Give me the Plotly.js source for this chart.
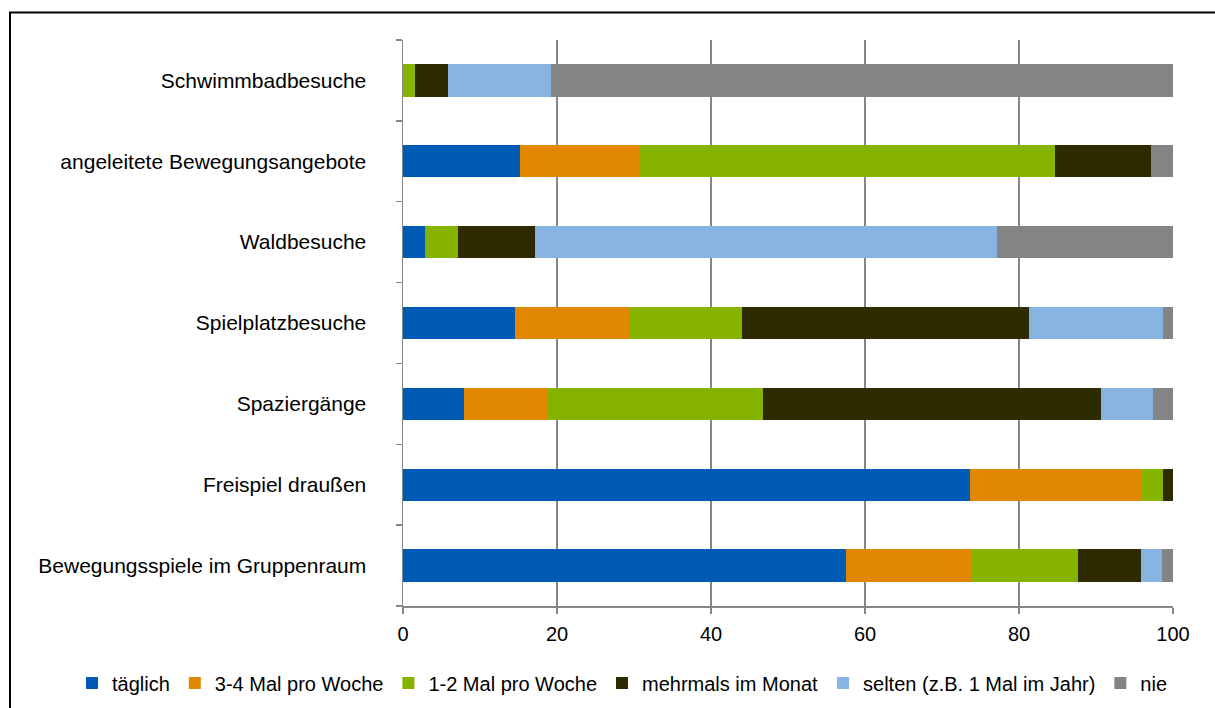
<!DOCTYPE html>
<html>
<head>
<meta charset="utf-8">
<script src="https://cdn.plot.ly/plotly-3.0.1.min.js"></script>
<style>
html,body{margin:0;padding:0;background:#fff;}
#chart{width:1215px;height:708px;}
</style>
</head>
<body>
<div id="chart"></div>
<script>
// Categories (bottom to top)
const categories = [
  "Bewegungsspiele im Gruppenraum",
  "Freispiel draußen",
  "Spaziergänge",
  "Spielplatzbesuche",
  "Waldbesuche",
  "angeleitete Bewegungsangebote",
  "Schwimmbadbesuche"
];
const seriesNames = ["täglich", "3-4 Mal pro Woche", "1-2 Mal pro Woche", "mehrmals im Monat", "selten (z.B. 1 Mal im Jahr)", "nie"];
const taeglich   = [57.5, 73.6,  7.9, 14.6,  2.9, 15.2,  0.0];
const mal34      = [16.4, 22.4, 10.8, 14.7,  0.0, 15.4,  0.0];
const mal12      = [13.7,  2.7, 28.0, 14.7,  4.2, 54.1,  1.5];
const mehrmals   = [ 8.2,  1.3, 43.9, 37.3, 10.0, 12.4,  4.3];
const selten     = [ 2.8,  0.0,  6.8, 17.4, 60.0,  0.0, 13.4];
const nie        = [ 1.4,  0.0,  2.6,  1.3, 22.9,  2.9, 80.8];
const xTicks = [0, 20, 40, 60, 80, 100];

const colors = ["#005BB5", "#E28800", "#86B300", "#2E2B00", "#88B4E3", "#848484"];
const values = [taeglich, mal34, mal12, mehrmals, selten, nie];

const data = values.map((v, i) => ({
  type: "bar",
  orientation: "h",
  name: seriesNames[i],
  y: categories,
  x: v,
  marker: {color: colors[i], line: {width: 0}},
  hoverinfo: "x+name"
}));

// plot area in pixels: x 403..1173, y 40..606
const L = 403, R = 1173, T = 40, B = 606;
const W = 1215, H = 708;
const px = p => (p - L) / (R - L);
const py = p => (B - p) / (B - T);

const layout = {
  width: W, height: H,
  margin: {l: L, r: W - R, t: T, b: H - B, autoexpand: false},
  paper_bgcolor: "#ffffff",
  plot_bgcolor: "#ffffff",
  barmode: "stack",
  bargap: 0.6,
  font: {family: "Liberation Sans, Arial, sans-serif", size: 20, color: "#000"},
  xaxis: {
    range: [0, 100],
    tickvals: xTicks,
    ticktext: xTicks.map(String),
    showgrid: true,
    gridcolor: "#868686",
    gridwidth: 1.5,
    zeroline: false,
    showline: true,
    linecolor: "#868686",
    linewidth: 1.5,
    ticks: "outside",
    ticklen: 6,
    tickcolor: "#868686",
    tickwidth: 1.5,
    ticklabelstandoff: 3,
    tickfont: {size: 20, color: "#000"},
    fixedrange: true
  },
  yaxis: {
    type: "category",
    categoryorder: "array",
    categoryarray: categories,
    showgrid: false,
    zeroline: false,
    showline: true,
    linecolor: "#868686",
    linewidth: 1.5,
    ticks: "outside",
    tickson: "boundaries",
    ticklen: 6,
    tickcolor: "#868686",
    tickwidth: 1.5,
    ticklabelstandoff: 31,
    tickfont: {size: 21, color: "#000"},
    fixedrange: true
  },
  showlegend: true,
  legend: {
    orientation: "h",
    traceorder: "normal",
    x: px(72), xanchor: "left",
    y: py(683), yanchor: "middle",
    font: {size: 20, color: "#000"},
    tracegroupgap: 0,
    bgcolor: "rgba(0,0,0,0)"
  },
  shapes: [{
    type: "rect", xref: "paper", yref: "paper",
    x0: px(10), x1: px(1220), y0: py(715), y1: py(12.5),
    line: {color: "#000", width: 2}, fillcolor: "rgba(0,0,0,0)",
    layer: "above"
  }]
};

Plotly.newPlot("chart", data, layout, {displayModeBar: false, staticPlot: true});
</script>
</body>
</html>
